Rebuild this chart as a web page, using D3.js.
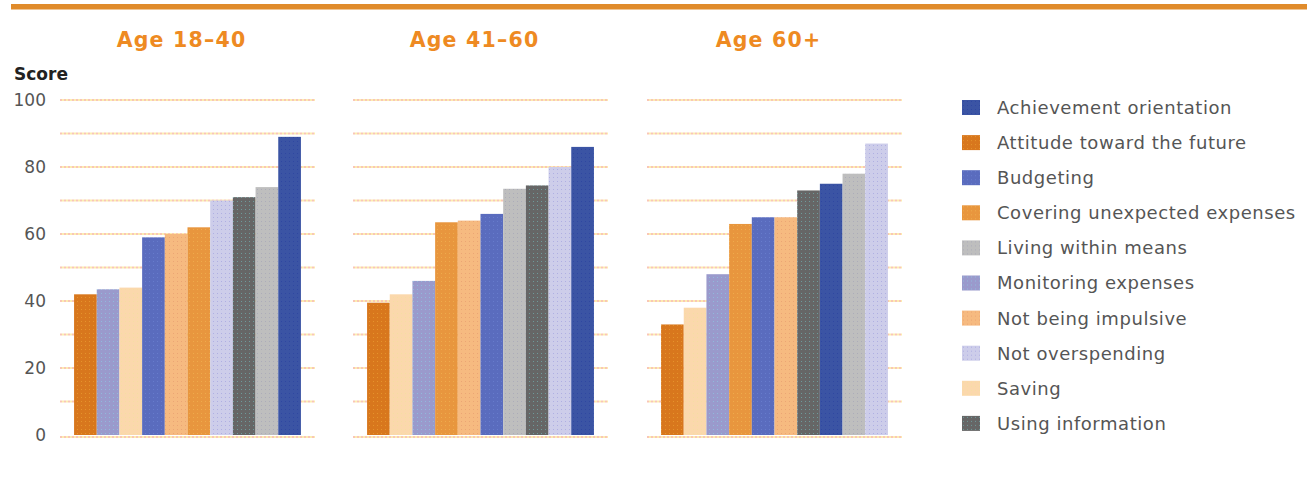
<!DOCTYPE html>
<html>
<head>
<meta charset="utf-8">
<script src="https://cdn.jsdelivr.net/npm/d3@7"></script>
<style>
  html, body { margin: 0; padding: 0; background: #fff; }
  svg { display: block; }
</style>
</head>
<body>
<svg id="chart" width="1316" height="480"></svg>
<script>
// ---- Data ----
const categories = [
  "Achievement orientation",
  "Attitude toward the future",
  "Budgeting",
  "Covering unexpected expenses",
  "Living within means",
  "Monitoring expenses",
  "Not being impulsive",
  "Not overspending",
  "Saving",
  "Using information"
];
const panels = ["Age 18–40", "Age 41–60", "Age 60+"];
const age18to40 = [89, 42, 59, 62, 74, 43.5, 60, 70, 44, 71];
const age41to60 = [86, 39.5, 66, 63.5, 73.5, 46, 64, 80, 42, 74.5];
const age60plus = [75, 33, 65, 63, 78, 48, 65, 87, 38, 73];
const yTicks = [0, 20, 40, 60, 80, 100];
const gridValues = [0, 10, 20, 30, 40, 50, 60, 70, 80, 90, 100];
const colors = ["#3b54a4", "#d8771d", "#5a6cbe", "#e8963e", "#bebebe",
                "#9a9acc", "#f6ba80", "#cdcdea", "#fbd8ac", "#666666"];
const dotColors = ["#2c44a0", "#e89a30", "#6a80d0", "#f0b050", "#a8a8b8",
                   "#8ec0e0", "#e8a070", "#a8a8e0", "#f4e0a0", "#70a8a8"];

const panelValues = [age18to40, age41to60, age60plus];

// ---- Layout ----
const svg = d3.select("#chart");
const plotLeft = [60, 353, 647];
const plotWidth = 255;
const yTop = 100, yBottom = 435;

const y = d3.scaleLinear().domain([0, 100]).range([yBottom, yTop]);
const color = d3.scaleOrdinal().domain(categories).range(colors);
const dotColor = d3.scaleOrdinal().domain(categories).range(dotColors);

// patterns
const defs = svg.append("defs");
categories.forEach((c, i) => {
  const p = defs.append("pattern")
    .attr("id", "pat" + i)
    .attr("patternUnits", "userSpaceOnUse")
    .attr("width", 4).attr("height", 4);
  p.append("rect").attr("width", 4).attr("height", 4).attr("fill", color(c));
  p.append("rect").attr("x", 1).attr("y", 1).attr("width", 1).attr("height", 1)
    .attr("fill", dotColor(c)).attr("opacity", 0.8);
});

// top rule
svg.append("rect")
  .attr("x", 11).attr("y", 4).attr("width", 1296).attr("height", 5.5)
  .attr("fill", "#e08b2b");

// Score label
svg.append("text")
  .attr("x", 14).attr("y", 80)
  .attr("font-family", "DejaVu Sans, sans-serif")
  .attr("font-weight", "bold")
  .attr("font-size", 17)
  .attr("fill", "#222")
  .text("Score");

panelValues.forEach((vals, pi) => {
  const g = svg.append("g");
  const x0 = plotLeft[pi];

  // gridlines (pink / yellow dotted zigzag)
  gridValues.forEach(v => {
    const yy = y(v) + (v === 0 ? 2 : 0);
    g.append("line")
      .attr("x1", x0).attr("x2", x0 + plotWidth)
      .attr("y1", yy).attr("y2", yy)
      .attr("stroke", "#f9c6b6").attr("stroke-width", 2)
      .attr("stroke-dasharray", "2,2");
    g.append("line")
      .attr("x1", x0 + 2).attr("x2", x0 + plotWidth)
      .attr("y1", yy).attr("y2", yy)
      .attr("stroke", "#fcedb0").attr("stroke-width", 2)
      .attr("stroke-dasharray", "2,2");
  });

  const data = categories.map((c, i) => ({ cat: c, idx: i, value: vals[i] }))
    .sort((a, b) => a.value - b.value);

  const x = d3.scaleBand()
    .domain(data.map(d => d.cat))
    .range([x0, x0 + plotWidth])
    .paddingInner(0)
    .paddingOuter(0.62);

  g.selectAll("rect.bar")
    .data(data)
    .join("rect")
    .attr("class", "bar")
    .attr("x", d => x(d.cat))
    .attr("width", x.bandwidth())
    .attr("y", d => y(d.value))
    .attr("height", d => y(0) - y(d.value))
    .attr("fill", d => "url(#pat" + d.idx + ")");

  // panel title
  svg.append("text")
    .attr("x", x0 + plotWidth / 2 - 6)
    .attr("y", 47)
    .attr("text-anchor", "middle")
    .attr("font-family", "DejaVu Sans, sans-serif")
    .attr("font-weight", "bold")
    .attr("font-size", 20.5)
    .attr("letter-spacing", "1.2px")
    .attr("fill", "#ee8a22")
    .text(panels[pi]);
});

// y axis labels (first panel only)
const yAxis = d3.axisLeft(y).tickValues(yTicks).tickSize(0).tickPadding(0);
const ya = svg.append("g")
  .attr("transform", "translate(46,0)")
  .call(yAxis);
ya.select(".domain").remove();
ya.selectAll("text")
  .attr("font-family", "DejaVu Sans, sans-serif")
  .attr("font-size", 17)
  .attr("fill", "#555")
  .attr("dy", "0.3em");

// legend
const legend = svg.append("g").attr("transform", "translate(962,100)");
categories.forEach((c, i) => {
  const row = legend.append("g").attr("transform", `translate(0,${i * 35.1})`);
  row.append("rect")
    .attr("x", 0).attr("y", 0).attr("width", 18).attr("height", 15)
    .attr("fill", "url(#pat" + i + ")");
  row.append("text")
    .attr("x", 35).attr("y", 7.5)
    .attr("dy", "0.36em")
    .attr("font-family", "DejaVu Sans, sans-serif")
    .attr("font-size", 18)
    .attr("letter-spacing", "0.55px")
    .attr("fill", "#555")
    .text(c);
});
</script>
</body>
</html>
